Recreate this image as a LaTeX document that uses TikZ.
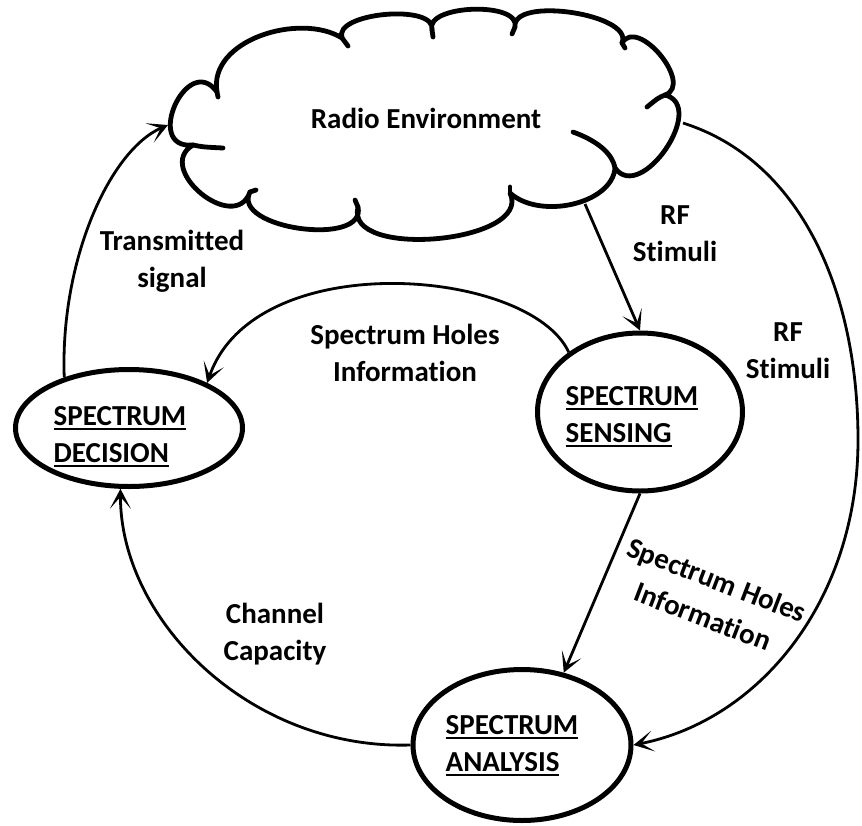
\documentclass[tikz,border=0pt]{standalone}
\usepackage{fontspec}
\setmainfont{Carlito}[Ligatures={NoCommon}]
\usetikzlibrary{shapes.geometric,arrows.meta,calc}

% underlined word with a heavy rule
\newcommand\ulword[1]{\setbox0=\hbox{#1}\rlap{\rule[-4.5pt]{\wd0}{2.6pt}}\box0}

\tikzset{
  state/.style={ellipse, draw, line width=5pt, inner sep=0pt},
  statetext/.style={align=left, inner sep=0pt},
  conn/.style={line width=2.8pt, -{Stealth[length=20pt,width=21pt,inset=12pt]}},
  lbl/.style={align=center, inner sep=0pt},
  cloudline/.style={line width=4.8pt, line cap=round, line join=round},
}

\begin{document}
\begin{tikzpicture}[x=1pt, y=-1pt, font=\fontsize{29}{37}\selectfont\bfseries]
\useasboundingbox (0,0) rectangle (862,825);

% ---------- cloud ----------
\coordinate (Ja) at (193,145);
\coordinate (Jb) at (217,92);
\coordinate (J2) at (342,38);
\coordinate (J3) at (432,30);
\coordinate (J4) at (515,27);
\coordinate (J5) at (622,43);
\coordinate (J6) at (665,95);
\coordinate (J7) at (615,168);
\coordinate (J9) at (510,193);
\coordinate (J10) at (358,207);
\coordinate (J11) at (250,192);

\draw[cloudline]
  (Ja) .. controls ($(Ja)!0.87!120:(Jb)$) and ($(Jb)!0.87!-120:(Ja)$) .. (Jb)
       .. controls (208,40) and (300,12) .. (J2)
       .. controls ($(J2)!0.30!105:(J3)$) and ($(J3)!0.30!-105:(J2)$) .. (J3)
       .. controls ($(J3)!0.32!105:(J4)$) and ($(J4)!0.32!-105:(J3)$) .. (J4)
       .. controls ($(J4)!0.29!105:(J5)$) and ($(J5)!0.29!-105:(J4)$) .. (J5)
       .. controls ($(J5)!0.46!110:(J6)$) and ($(J6)!0.46!-110:(J5)$) .. (J6)
       .. controls ($(J6)!0.50!110:(J7)$) and ($(J7)!0.50!-110:(J6)$) .. (J7)
       .. controls (612,204) and (540,220) .. (J9)
       .. controls ($(J9)!0.36!110:(J10)$) and ($(J10)!0.36!-110:(J9)$) .. (J10)
       .. controls ($(J10)!0.38!110:(J11)$) and ($(J11)!0.38!-110:(J10)$) .. (J11)
       .. controls ($(J11)!0.62!110:(Ja)$) and ($(Ja)!0.62!-110:(J11)$) .. (Ja);
% overlapping puff ends
\draw[cloudline] (Ja) .. controls (203,147) .. (223,148);
\draw[cloudline] (573,132) .. controls (595,140) and (612,152) .. (J7);
\draw[cloudline] (J6) .. controls (658,98) .. (647,107);
\draw[cloudline] (Jb) -- (218,97);
\draw[cloudline] (J2) -- (348,46);
\draw[cloudline] (J3) -- (433,37);
\draw[cloudline] (J4) -- (512,34);
\draw[cloudline] (J5) -- (625,48);
\draw[cloudline] (J9) -- (510,187);
\draw[cloudline] (J10) -- (355,200);
\draw[cloudline] (J11) -- (256,190);

\node (env) at (426,118) {Radio Environment};
\coordinate (cl) at (168,125);
\coordinate (cb) at (585,204);
\coordinate (cr) at (683,123);

% ---------- states ----------
\node[state, minimum width=227pt, minimum height=117pt] (dec) at (129,428) {};
\node[state, minimum width=205pt, minimum height=158pt] (sen) at (640,412) {};
\node[state, minimum width=218pt, minimum height=151pt] (ana) at (522,745) {};

\node[statetext] (dect) at (120,437) {\ulword{SPECTRUM}\\\ulword{DECISION}};
\node[statetext] (sent) at (632,417) {\ulword{SPECTRUM}\\\ulword{SENSING}};
\node[statetext] (anat) at (512,746) {\ulword{SPECTRUM}\\\ulword{ANALYSIS}};

% ---------- connectors ----------
\draw[conn] (dec.142) .. controls (60,260) and (110,150) .. (cl);
\draw[conn] (cb) -- (sen.north);
\draw[conn] (sen.140) .. controls (530,268) and (255,245) .. (dec.30);
\coordinate (farright) at (858,440);
\draw[conn] (cr) .. controls (800,160) and (858,290) .. (farright)
                 .. controls (858,600) and (760,720) .. (ana.east);
\draw[conn] (sen.south) -- (ana.60);
\draw[conn] (ana.west) .. controls (250,750) and (120,620) .. (dec.262);

% ---------- labels ----------
\node[lbl] (tx) at (172,261) {Transmitted\\signal};
\node[lbl] (rf1) at (675,234) {RF\\Stimuli};
\node[lbl] (shi1) at (405,353) {Spectrum Holes\\Information};
\node[lbl] (rf2) at (788,351) {RF\\Stimuli};
\node[lbl, rotate=-21, font=\fontsize{29}{39}\selectfont\bfseries] (shi2) at (710,598) {Spectrum Holes\\Information};
\node[lbl] (cc) at (275,634) {Channel\\Capacity};
\end{tikzpicture}
\end{document}
